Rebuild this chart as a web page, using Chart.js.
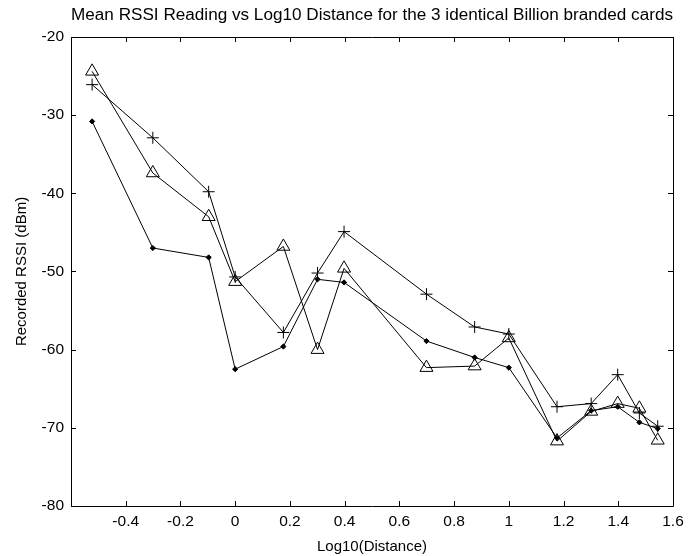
<!DOCTYPE html>
<html>
<head>
<meta charset="utf-8">
<script src="https://cdn.jsdelivr.net/npm/chart.js@4/dist/chart.umd.min.js"></script>
<style>
  html, body { margin: 0; padding: 0; background: #fff; }
  #wrap { width: 697px; height: 556px; position: relative; }
</style>
</head>
<body>
<div id="wrap"><canvas id="c" width="697" height="556"></canvas></div>
<script>
// Log10 of measured distance
const logDistance = [-0.5229, -0.3010, -0.0969, 0.0000, 0.1761, 0.3010, 0.3979, 0.6990, 0.8751, 1.0000, 1.1761, 1.3010, 1.3979, 1.4771, 1.5441];
// Mean RSSI (dBm) for each card
const cardPlus     = [-26.1, -32.9, -39.8, -50.7, -57.8, -50.2, -44.9, -52.9, -57.1, -58.0, -67.3, -66.9, -63.2, -68.1, -69.8];
const cardTriangle = [-24.4, -37.4, -43.0, -51.3, -46.8, -60.0, -49.6, -62.3, -62.1, -58.5, -71.7, -67.9, -66.9, -67.5, -71.6];
const cardDot      = [-30.8, -47.0, -48.2, -62.5, -59.6, -51.0, -51.4, -58.9, -61.0, -62.3, -71.3, -67.8, -67.3, -69.3, -70.1];
const xTickValues  = [-0.4, -0.2, 0, 0.2, 0.4, 0.6, 0.8, 1, 1.2, 1.4, 1.6];
const yTickValues  = [-80, -70, -60, -50, -40, -30, -20];

const FONT = "'Liberation Sans', Arial, sans-serif";

function pts(ys) { return logDistance.map((x, i) => ({ x: x, y: ys[i] })); }

const boxTicks = {
  id: 'boxTicks',
  afterDatasetsDraw(chart) {
    const ctx = chart.ctx, a = chart.chartArea;
    const xs = chart.scales.x, ys = chart.scales.y;
    ctx.save();
    ctx.strokeStyle = '#000';
    ctx.lineWidth = 1;
    ctx.beginPath();
    ctx.rect(Math.round(a.left) + 0.5, Math.round(a.top) + 0.5, Math.round(a.right - a.left), Math.round(a.bottom - a.top));
    const L = 5;
    xTickValues.forEach(v => {
      const px = Math.round(xs.getPixelForValue(v)) + 0.5;
      ctx.moveTo(px, a.bottom); ctx.lineTo(px, a.bottom - L);
      ctx.moveTo(px, a.top); ctx.lineTo(px, a.top + L);
    });
    yTickValues.forEach(v => {
      const py = Math.round(ys.getPixelForValue(v)) + 0.5;
      ctx.moveTo(a.left, py); ctx.lineTo(a.left + L, py);
      ctx.moveTo(a.right, py); ctx.lineTo(a.right - L, py);
    });
    ctx.stroke();
    ctx.restore();
  }
};

const common = { borderColor: '#000', borderWidth: 1, showLine: true, tension: 0,
                 pointBorderColor: '#000', pointBorderWidth: 1 };

new Chart(document.getElementById('c'), {
  type: 'scatter',
  data: {
    datasets: [
      Object.assign({}, common, { label: 'Card A', data: pts(cardPlus), pointStyle: 'cross', pointRadius: 6, pointHoverRadius: 6, backgroundColor: 'transparent' }),
      Object.assign({}, common, { label: 'Card B', data: pts(cardTriangle), pointStyle: 'triangle', pointRadius: 7.5, pointHoverRadius: 7.5, pointBackgroundColor: 'transparent', backgroundColor: 'transparent' }),
      Object.assign({}, common, { label: 'Card C', data: pts(cardDot), pointStyle: 'rectRot', pointRadius: 2.6, pointHoverRadius: 2.6, pointBackgroundColor: '#000', backgroundColor: '#000' })
    ]
  },
  options: {
    responsive: false,
    animation: false,
    events: [],
    layout: { padding: { left: 0, right: 24, top: 0, bottom: 0 } },
    plugins: {
      legend: { display: false },
      tooltip: { enabled: false },
      title: {
        display: true,
        fullSize: false,
        text: 'Mean RSSI Reading vs Log10 Distance for the 3 identical Billion branded cards',
        color: '#000',
        font: { family: FONT, size: 17.3, weight: 'normal' },
        padding: { top: 5, bottom: 11.2 }
      }
    },
    scales: {
      x: {
        type: 'linear', min: -0.6, max: 1.6,
        afterBuildTicks: s => { s.ticks = xTickValues.map(v => ({ value: v })); },
        afterFit: s => { s.height = 50; },
        grid: { display: false, drawTicks: false },
        border: { display: false },
        ticks: { color: '#000', padding: 6, maxRotation: 0, autoSkip: false,
                 font: { family: FONT, size: 15.5 },
                 callback: v => String(Math.round(v * 10) / 10) },
        title: { display: true, text: 'Log10(Distance)', color: '#000', padding: { top: 2, bottom: 0 },
                 font: { family: FONT, size: 15 } }
      },
      y: {
        type: 'linear', min: -80, max: -20,
        afterBuildTicks: s => { s.ticks = yTickValues.map(v => ({ value: v })); },
        afterFit: s => { s.width = 71; },
        grid: { display: false, drawTicks: false },
        border: { display: false },
        ticks: { color: '#000', padding: 7, autoSkip: false,
                 font: { family: FONT, size: 15.5 } },
        title: { display: true, text: 'Recorded RSSI (dBm)', color: '#000', padding: { top: 13, bottom: 0 },
                 font: { family: FONT, size: 15 } }
      }
    }
  },
  plugins: [boxTicks]
});
</script>
</body>
</html>
